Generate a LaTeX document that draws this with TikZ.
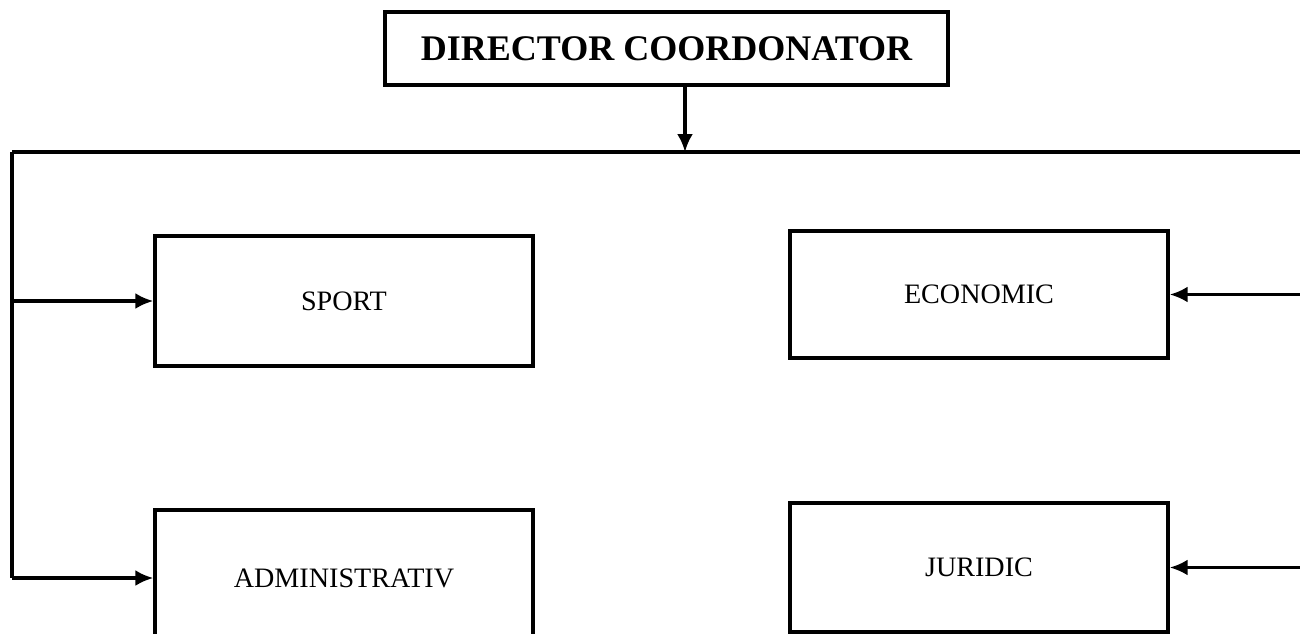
\documentclass[tikz,border=0pt]{standalone}
\usepackage{fontspec}
\setmainfont{Liberation Serif}
\usetikzlibrary{shapes,arrows,arrows.meta,positioning}

\begin{document}
\begin{tikzpicture}[
    >={Latex[length=3.6mm,width=3.2mm]}, line width=1.9pt,
    dept/.style={draw, minimum width=7.56cm, inner sep=0pt, font=\fontsize{16}{19}\selectfont}
  ]
    \useasboundingbox (0,0) rectangle (26,-12.66);
    % Director
    \node[draw, minimum width=11.26cm, minimum height=1.46cm, font=\fontsize{20.5}{24}\selectfont\bfseries] (dir) at (13.33,-0.97) {DIRECTOR COORDONATOR};
    \coordinate (bus) at (13.7,-3.04);
    \coordinate (busL) at (0.24,-3.04);
    \coordinate (busR) at (26,-3.04);
    \draw[->] (dir.south -| bus) -- (bus);
    \draw (busL) -- (busR);

    % Left side
    \node[dept, minimum height=2.6cm] (sport) at (6.88,-6.02) {SPORT};
    \node[dept, minimum height=2.72cm] (admin) at (6.88,-11.56) {ADMINISTRATIV};
    \coordinate (leftEnd) at (0.24,-11.56);
    \draw (busL) -- (leftEnd);
    \draw[->] (busL |- sport) -- (sport);
    \draw[->] (leftEnd) -- (admin);

    % Right side
    \node[dept, minimum height=2.54cm] (econ) at (19.58,-5.89) {ECONOMIC};
    \node[dept, minimum height=2.58cm] (jur) at (19.58,-11.35) {JURIDIC};
    \draw[->] (busR |- econ) -- (econ);
    \draw[->] (busR |- jur) -- (jur);
  \end{tikzpicture}
\end{document}
